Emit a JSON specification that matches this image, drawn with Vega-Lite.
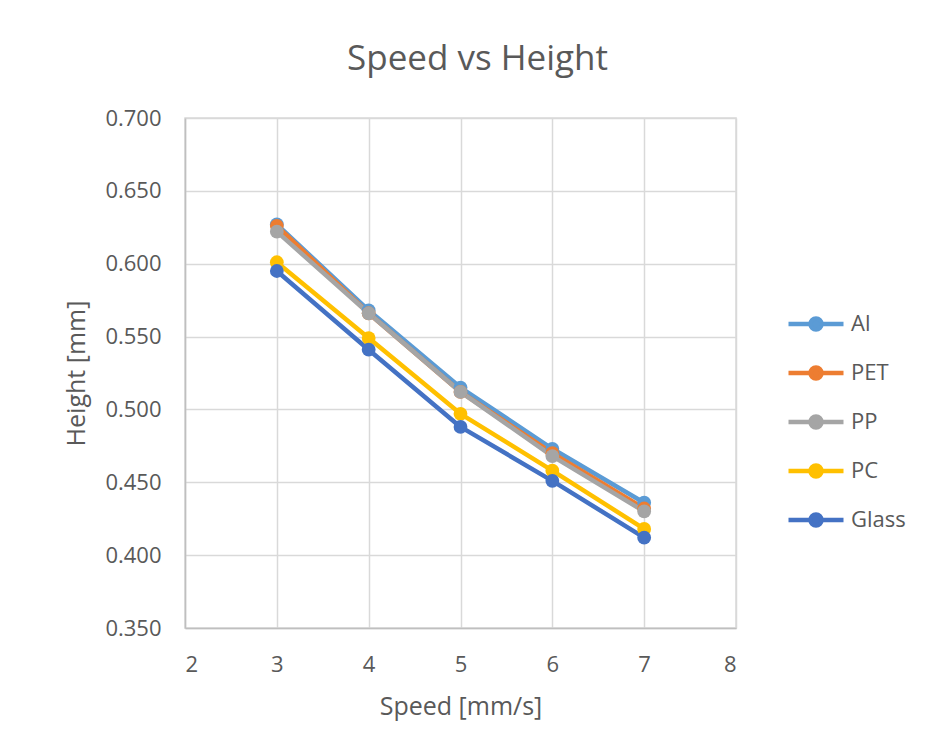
{
  "$schema": "https://vega.github.io/schema/vega-lite/v6.json",
  "autosize": "none",
  "width": 551,
  "height": 510,
  "padding": {"left": 185, "top": 118, "right": 194, "bottom": 127},
  "background": "white",
  "title": {
    "text": "Speed vs Height",
    "anchor": "middle",
    "frame": "group",
    "dx": 17,
    "fontSize": 35,
    "font": "Open Sans",
    "fontWeight": "normal",
    "color": "#595959",
    "offset": 30
  },
  "data": {
    "values": [
      {"speed": 3, "material": "Al", "height": 0.627},
      {"speed": 4, "material": "Al", "height": 0.568},
      {"speed": 5, "material": "Al", "height": 0.515},
      {"speed": 6, "material": "Al", "height": 0.473},
      {"speed": 7, "material": "Al", "height": 0.436},
      {"speed": 3, "material": "PET", "height": 0.626},
      {"speed": 4, "material": "PET", "height": 0.566},
      {"speed": 5, "material": "PET", "height": 0.512},
      {"speed": 6, "material": "PET", "height": 0.470},
      {"speed": 7, "material": "PET", "height": 0.432},
      {"speed": 3, "material": "PP", "height": 0.622},
      {"speed": 4, "material": "PP", "height": 0.566},
      {"speed": 5, "material": "PP", "height": 0.512},
      {"speed": 6, "material": "PP", "height": 0.468},
      {"speed": 7, "material": "PP", "height": 0.430},
      {"speed": 3, "material": "PC", "height": 0.601},
      {"speed": 4, "material": "PC", "height": 0.549},
      {"speed": 5, "material": "PC", "height": 0.497},
      {"speed": 6, "material": "PC", "height": 0.458},
      {"speed": 7, "material": "PC", "height": 0.418},
      {"speed": 3, "material": "Glass", "height": 0.595},
      {"speed": 4, "material": "Glass", "height": 0.541},
      {"speed": 5, "material": "Glass", "height": 0.488},
      {"speed": 6, "material": "Glass", "height": 0.451},
      {"speed": 7, "material": "Glass", "height": 0.412}
    ]
  },
  "encoding": {
    "x": {
      "field": "speed",
      "type": "quantitative",
      "scale": {"domain": [2, 8], "nice": false, "zero": false},
      "axis": {
        "title": "Speed [mm/s]",
        "values": [2, 3, 4, 5, 6, 7, 8],
        "format": "d",
        "labelPadding": 26,
        "titlePadding": 19
      }
    },
    "y": {
      "field": "height",
      "type": "quantitative",
      "scale": {"domain": [0.35, 0.7], "nice": false, "zero": false},
      "axis": {
        "title": "Height [mm]",
        "values": [0.35, 0.4, 0.45, 0.5, 0.55, 0.6, 0.65, 0.7],
        "format": ".3f",
        "labelPadding": 24,
        "titlePadding": 15
      }
    },
    "color": {
      "field": "material",
      "type": "nominal",
      "sort": ["Al", "PET", "PP", "PC", "Glass"],
      "scale": {
        "domain": ["Al", "PET", "PP", "PC", "Glass"],
        "range": ["#5B9BD5", "#ED7D31", "#A5A5A5", "#FFC000", "#4472C4"]
      },
      "legend": {
        "title": null,
        "orient": "none",
        "legendX": 601,
        "legendY": 176,
        "symbolType": "M-1,0 L-0.2,0 M0.2,0 L1,0 M0.2,0 A0.2,0.2 0 1,1 -0.2,0 A0.2,0.2 0 1,1 0.2,0 Z",
        "symbolSize": 3025,
        "symbolStrokeWidth": 4.5,
        "symbolOpacity": 1,
        "labelFontSize": 22,
        "labelFont": "Open Sans",
        "labelColor": "#595959",
        "labelOffset": 5,
        "rowPadding": 4
      }
    }
  },
  "layer": [
    {
      "mark": {"type": "line", "strokeWidth": 4.5, "strokeCap": "round", "strokeJoin": "round"}
    },
    {
      "mark": {"type": "point", "filled": true, "opacity": 1, "size": 190, "strokeWidth": 0}
    }
  ],
  "config": {
    "view": {"stroke": "#D9D9D9", "strokeWidth": 1.5},
    "axis": {
      "grid": true,
      "gridColor": "#D9D9D9",
      "gridWidth": 1.5,
      "domainColor": "#BFBFBF",
      "domainWidth": 1.5,
      "ticks": false,
      "labelFont": "Open Sans",
      "labelFontSize": 22,
      "labelColor": "#595959",
      "titleFont": "Open Sans",
      "titleFontSize": 25,
      "titleFontWeight": "normal",
      "titleColor": "#595959"
    }
  }
}
